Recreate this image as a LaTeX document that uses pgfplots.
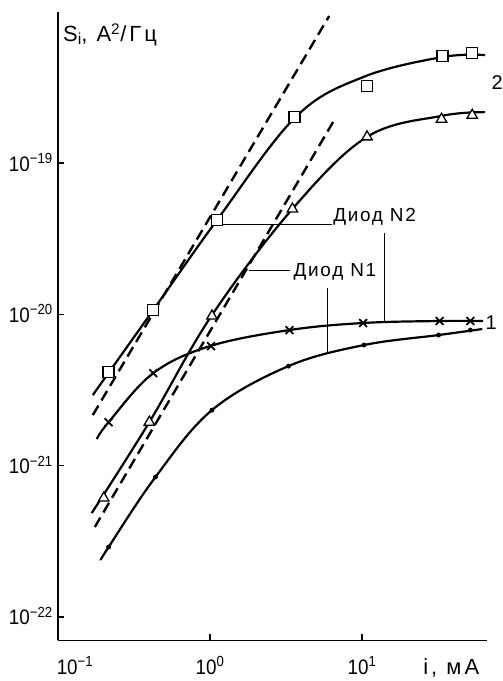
\documentclass[border=0pt]{standalone}
\usepackage{fontspec}
\setmainfont{Liberation Sans}
\newfontfamily\tickfont{Liberation Sans}[FakeStretch=0.9]
\newfontfamily\lblfont{Liberation Sans}[LetterSpace=9]
\newfontfamily\axlblfont{Liberation Sans}[LetterSpace=14]
\usepackage{pgfplots}
\pgfplotsset{compat=1.18}

\begin{document}
\begin{tikzpicture}
\useasboundingbox (0,0) rectangle (503bp,681bp);
\begin{axis}[
  at={(58bp,40.6bp)}, anchor=south west,
  scale only axis, width=429bp, height=628.7bp,
  xmode=log, ymode=log,
  xmin=0.1, xmax=66.4, ymin=7e-23, ymax=1e-18,
  axis x line*=bottom, axis y line*=left,
  axis line style={line width=1.6bp, -},
  xtick={0.1,1,10},
  xticklabels={\hspace*{34bp}10\textsuperscript{−1},10\textsuperscript{0},10\textsuperscript{1}},
  ytick={1e-22,1e-21,1e-20,1e-19},
  yticklabels={10\textsuperscript{−22},10\textsuperscript{−21},10\textsuperscript{−20},10\textsuperscript{−19}},
  minor tick length=0pt,
  major tick length=6bp,
  tick align=inside,
  tick style={line width=1.4bp, black},
  tick label style={font=\tickfont\fontsize{21}{22}\selectfont},
  xticklabel style={anchor=base, yshift=-34bp},
  yticklabel style={anchor=base east, inner sep=0pt, xshift=-5bp, yshift=-8bp},
  clip=false,
]
% dashed asymptotes
\addplot[black, line width=2.4bp, dash pattern=on 11bp off 6bp] coordinates {(0.1694,2.16e-21) (6.08,9.37e-19)};
\addplot[black, line width=2.4bp, dash pattern=on 11bp off 6bp] coordinates {(0.1746,3.93e-22) (6.46,1.87e-19)};

% curve squares (diode N2)
\addplot[black, line width=2.2bp, smooth, tension=0.6] coordinates {
(0.1694,2.93e-21) (0.4236,1.07e-20) (1.112,4.20e-20) (3.648,2.01e-19)
(10.16,3.70e-19) (33.81,5.02e-19) (64.6,5.17e-19)};
% curve triangles (diode N1)
\addplot[black, line width=2.2bp, smooth, tension=0.6] coordinates {
(0.1667,4.86e-22) (0.3990,1.94e-21) (1.030,9.89e-21) (3.484,4.97e-20) (10.79,1.49e-19)
(33.34,2.05e-19) (64.6,2.17e-19)};
% curve crosses (diode N2)
\addplot[black, line width=2.2bp, smooth, tension=0.6] coordinates {
(0.1799,1.50e-21) (0.2153,1.94e-21) (0.4236,4.09e-21) (1.0,6.17e-21) (3.334,7.88e-21)
(10.16,8.77e-21) (32.36,9.04e-21) (62.7,9.04e-21)};
% curve dots (diode N1)
\addplot[black, line width=2.2bp, smooth, tension=0.6] coordinates {
(0.1910,2.38e-22) (0.2153,2.90e-22) (0.4375,8.41e-22) (1.030,2.33e-21) (3.281,4.55e-21)
(10.30,6.27e-21) (31.84,7.30e-21) (61.80,8.00e-21)};

% measured points
\addplot[only marks, mark=square*, mark size=5.5bp, mark options={fill=white, draw=black, line width=1.3bp}] coordinates {
(0.2153,4.16e-21) (0.4236,1.07e-20) (1.112,4.20e-20) (3.594,2.01e-19) (10.79,3.23e-19) (33.81,5.09e-19) (53.09,5.33e-19)};
\addplot[only marks, mark=triangle*, mark size=6bp, mark options={fill=white, draw=black, line width=1.3bp}] coordinates {
(0.2000,6.11e-22) (0.3990,1.94e-21) (1.030,9.75e-21) (3.484,4.97e-20) (10.79,1.49e-19) (33.34,1.95e-19) (53.09,2.07e-19)};
\addplot[only marks, mark=x, mark size=5.5bp, mark options={draw=black, line width=1.8bp}] coordinates {
(0.2153,1.94e-21) (0.4236,4.09e-21) (1.015,6.17e-21) (3.334,7.88e-21) (10.16,8.77e-21) (32.36,9.04e-21) (51.55,9.04e-21)};
\addplot[only marks, mark=*, mark size=2.2bp, mark options={fill=black, draw=black}] coordinates {
(0.2153,2.90e-22) (0.4375,8.41e-22) (1.030,2.33e-21) (3.281,4.55e-21) (10.30,6.27e-21) (31.84,7.30e-21) (51.55,7.88e-21)};

% leader lines
\draw[black, line width=1.1bp] (axis cs:1.216,3.95e-20) -- (axis cs:6.37,3.95e-20);
\draw[black, line width=1.1bp] (axis cs:14.13,3.44e-20) -- (axis cs:14.13,8.90e-21);
\draw[black, line width=1.1bp] (axis cs:1.799,1.96e-20) -- (axis cs:3.38,1.96e-20);
\draw[black, line width=1.1bp] (axis cs:5.902,1.49e-20) -- (axis cs:5.902,5.47e-21);

\node[anchor=base west, inner sep=0pt, font=\lblfont\fontsize{19}{20}\selectfont] at (axis cs:6.46,4.14e-20) {Диод N2};
\node[anchor=west, inner sep=0pt, font=\lblfont\fontsize{19}{20}\selectfont] at (axis cs:3.54,1.90e-20) {Диод N1};

\node[font=\fontsize{20}{21}\selectfont] at (axis cs:77.4,3.43e-19) {2};
\node[font=\fontsize{20}{21}\selectfont] at (axis cs:70.8,8.77e-21) {1};

\node[anchor=base west, inner sep=0pt, font=\axlblfont\fontsize{22}{23}\selectfont] at (rel axis cs:0,1) [xshift=5bp, yshift=-30bp] {S\raisebox{-3bp}{\fontsize{16}{16}\selectfont i}, A\textsuperscript{2}/Гц};
\node[anchor=base west, inner sep=0pt, font=\axlblfont\fontsize{22}{23}\selectfont] at (rel axis cs:0.851,0) [yshift=-34bp] {i, мА};
\end{axis}
\end{tikzpicture}
\end{document}
